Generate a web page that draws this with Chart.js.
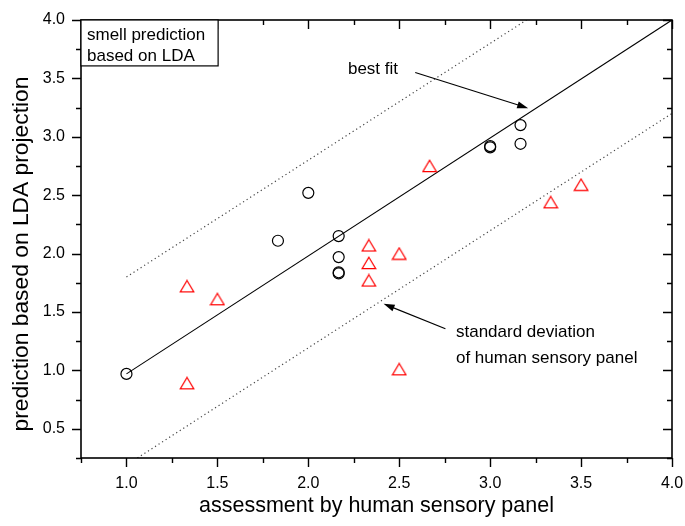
<!DOCTYPE html>
<html>
<head>
<meta charset="utf-8">
<script src="https://cdn.jsdelivr.net/npm/chart.js@4/dist/chart.umd.min.js"></script>
<style>
html,body{margin:0;padding:0;background:#fff;}
#wrap{width:685px;height:526px;}
</style>
</head>
<body>
<div id="wrap"><canvas id="c" width="685" height="526"></canvas></div>
<script>
// ---- data ----
const circleX = [1.0, 1.833, 2.0, 2.167, 2.167, 2.167, 2.167, 3.0, 3.0, 3.167, 3.167];
const circleY = [0.97, 2.11, 2.52, 2.15, 1.97, 1.84, 1.83, 2.92, 2.91, 3.10, 2.94];
const triX = [1.333, 1.333, 1.5, 2.333, 2.333, 2.333, 2.5, 2.5, 2.667, 3.333, 3.5];
const triY = [1.72, 0.89, 1.61, 2.07, 1.92, 1.77, 2.00, 1.01, 2.75, 2.44, 2.59];
const fitX = [1.0, 4.0];
const fitY = [0.97, 4.0];
const upperX = [1.0, 3.2];
const upperY = [1.80, 4.0];
const lowerX = [1.06, 4.0];
const lowerY = [0.25, 3.2];
const xTickLabels = ['1.0','1.5','2.0','2.5','3.0','3.5','4.0'];
const yTickLabels = ['0.5','1.0','1.5','2.0','2.5','3.0','3.5','4.0'];
const xTitle = 'assessment by human sensory panel';
const yTitle = 'prediction based on LDA projection';
const boxLines = ['smell prediction', 'based on LDA'];
const fitLabel = 'best fit';
const sdLabel = ['standard deviation', 'of human sensory panel'];

const FONT = "'Liberation Sans', Arial, Helvetica, sans-serif";
const pts = (xs, ys) => xs.map((x, i) => ({x: x, y: ys[i]}));

// triangle marker centered by its bounding box
function makeTriangle() {
  const c = document.createElement('canvas');
  c.width = 16; c.height = 14;
  const g = c.getContext('2d');
  g.strokeStyle = '#ff0000';
  g.lineWidth = 1.2;
  g.beginPath();
  g.moveTo(8, 1.2);
  g.lineTo(14.8, 12.6);
  g.lineTo(1.2, 12.6);
  g.closePath();
  g.stroke();
  return c;
}

function fmtTick(v, labels) {
  const s = v.toFixed(1);
  return (Math.abs(v * 2 - Math.round(v * 2)) < 1e-6 && labels.indexOf(s) >= 0) ? s : '';
}

const frameAndNotes = {
  id: 'frameAndNotes',
  afterDraw(chart) {
    const ctx = chart.ctx;
    const a = chart.chartArea;
    const xs = chart.scales.x, ys = chart.scales.y;
    const X = v => xs.getPixelForValue(v), Y = v => ys.getPixelForValue(v);
    ctx.save();
    ctx.strokeStyle = '#000';
    ctx.lineWidth = 1.6;
    ctx.strokeRect(a.left, a.top, a.right - a.left, a.bottom - a.top);
    ctx.lineWidth = 1.4;
    ctx.beginPath();
    xs.ticks.forEach(t => {
      const px = Math.round(X(t.value)) + 0.5;
      const major = Math.abs(t.value * 2 - Math.round(t.value * 2)) < 1e-6;
      const len = major ? 9 : 5;
      ctx.moveTo(px, a.bottom); ctx.lineTo(px, a.bottom + len);
      ctx.moveTo(px, a.top); ctx.lineTo(px, a.top + len);
    });
    ys.ticks.forEach(t => {
      const py = Math.round(Y(t.value)) + 0.5;
      const major = Math.abs(t.value * 2 - Math.round(t.value * 2)) < 1e-6;
      const len = major ? 9 : 5;
      ctx.moveTo(a.left, py); ctx.lineTo(a.left - len, py);
      ctx.moveTo(a.right, py); ctx.lineTo(a.right - len, py);
    });
    ctx.stroke();

    // y axis title
    ctx.fillStyle = '#000';
    ctx.save();
    ctx.translate(22, 254);
    ctx.rotate(-Math.PI / 2);
    ctx.font = '22.8px ' + FONT;
    ctx.textAlign = 'center';
    ctx.textBaseline = 'middle';
    ctx.fillText(yTitle, 0, 0);
    ctx.restore();

    // label box
    const bx0 = X(0.75), by0 = Y(4.0), bx1 = X(1.504), by1 = Y(3.607);
    ctx.fillStyle = '#fff';
    ctx.fillRect(bx0, by0, bx1 - bx0, by1 - by0);
    ctx.lineWidth = 1.2;
    ctx.strokeRect(bx0, by0, bx1 - bx0, by1 - by0);
    ctx.fillStyle = '#000';
    ctx.font = '17px ' + FONT;
    ctx.textBaseline = 'alphabetic';
    ctx.textAlign = 'left';
    ctx.fillText(boxLines[0], X(0.783), Y(3.829));
    ctx.fillText(boxLines[1], X(0.783), Y(3.649));

    // annotations
    ctx.fillText(fitLabel, X(2.218), Y(3.535));
    ctx.fillText(sdLabel[0], X(2.812), Y(1.283));
    ctx.fillText(sdLabel[1], X(2.812), Y(1.061));

    function arrow(x0, y0, x1, y1) {
      const ang = Math.atan2(y1 - y0, x1 - x0);
      const L = 11, W = 3.5;
      ctx.lineWidth = 1.1;
      ctx.beginPath();
      ctx.moveTo(x0, y0);
      ctx.lineTo(x1 - Math.cos(ang) * L * 0.8, y1 - Math.sin(ang) * L * 0.8);
      ctx.stroke();
      ctx.beginPath();
      ctx.moveTo(x1, y1);
      ctx.lineTo(x1 - Math.cos(ang) * L - Math.sin(ang) * W, y1 - Math.sin(ang) * L + Math.cos(ang) * W);
      ctx.lineTo(x1 - Math.cos(ang) * L + Math.sin(ang) * W, y1 - Math.sin(ang) * L - Math.cos(ang) * W);
      ctx.closePath();
      ctx.fill();
    }
    arrow(X(2.588), Y(3.55), X(3.209), Y(3.245));
    arrow(X(2.754), Y(1.356), X(2.414), Y(1.57));
    ctx.restore();
  }
};

new Chart(document.getElementById('c'), {
  type: 'scatter',
  data: {
    datasets: [
      { data: pts(circleX, circleY), pointStyle: 'circle', pointRadius: 5.5, pointBorderWidth: 1.2,
        borderColor: '#000', backgroundColor: 'rgba(0,0,0,0)', showLine: false },
      { data: pts(triX, triY), pointStyle: makeTriangle(), pointRadius: 7,
        borderColor: '#ff0000', backgroundColor: 'rgba(0,0,0,0)', showLine: false },
      { data: pts(fitX, fitY), showLine: true, pointRadius: 0, borderColor: '#000', borderWidth: 1.1 },
      { data: pts(upperX, upperY), showLine: true, pointRadius: 0, borderColor: '#444', borderWidth: 1.2, borderDash: [1.2, 3] },
      { data: pts(lowerX, lowerY), showLine: true, pointRadius: 0, borderColor: '#444', borderWidth: 1.2, borderDash: [1.2, 3] }
    ]
  },
  options: {
    responsive: false,
    animation: false,
    devicePixelRatio: 1,
    layout: { padding: { top: 20, right: 13, left: 0, bottom: 0 } },
    plugins: { legend: { display: false }, tooltip: { enabled: false } },
    scales: {
      x: {
        type: 'linear', position: 'bottom', min: 0.75, max: 4.0,
        afterFit: s => { s.height = 68; s.paddingLeft = 0; s.paddingRight = 0; },
        border: { display: false },
        grid: { drawOnChartArea: false, drawTicks: false },
        ticks: { stepSize: 0.25, autoSkip: false, maxRotation: 0, padding: 16, color: '#000',
          font: { family: FONT, size: 16 }, callback: v => fmtTick(v, xTickLabels) },
        title: { display: true, text: xTitle, color: '#000', font: { family: FONT, size: 21.5 },
          padding: { top: 0, bottom: 7 } }
      },
      y: {
        type: 'linear', position: 'left', min: 0.25, max: 4.0,
        afterFit: s => { s.width = 81; s.paddingTop = 0; s.paddingBottom = 0; },
        border: { display: false },
        grid: { drawOnChartArea: false, drawTicks: false },
        ticks: { stepSize: 0.25, autoSkip: false, padding: 16, color: '#000',
          font: { family: FONT, size: 16 }, callback: v => fmtTick(v, yTickLabels) },
        title: { display: false }
      }
    }
  },
  plugins: [frameAndNotes]
});
</script>
</body>
</html>
